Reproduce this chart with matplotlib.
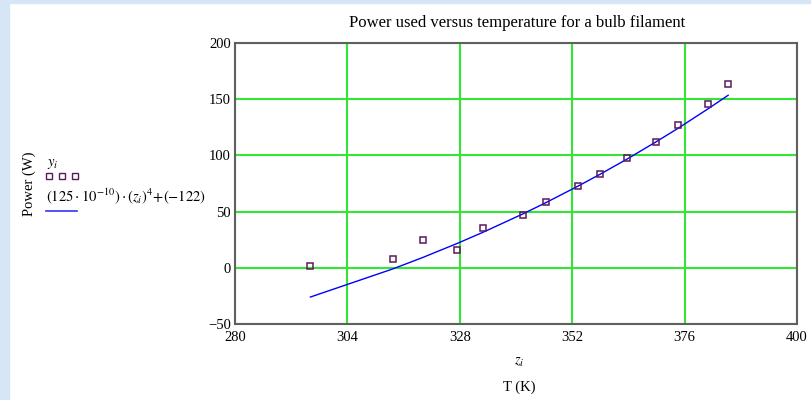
import matplotlib
matplotlib.use("Agg")
import matplotlib.pyplot as plt
from matplotlib.patches import Rectangle
from matplotlib.lines import Line2D

# ----- données -----
z = [296.1, 313.7, 320.1, 327.4, 333.0, 341.4, 346.3, 353.3, 357.9, 363.7, 369.8, 374.6, 381.1, 385.3]
y = [1.5, 7.7, 24.9, 15.7, 35.1, 47.2, 58.2, 72.4, 83.4, 97.3, 111.6, 127.2, 145.9, 163.2]
fit = [-26.0, -1.0, 9.2, 21.6, 31.7, 47.8, 57.8, 72.8, 83.1, 96.7, 111.8, 124.1, 141.7, 153.5]

x_ticks = [280, 304, 328, 352, 376, 400]
y_ticks = [-50, 0, 50, 100, 150, 200]

plt.rcParams['font.family'] = ['Liberation Serif', 'DejaVu Serif']
plt.rcParams['mathtext.fontset'] = 'stix'

fig = plt.figure(figsize=(8.11, 4.0), dpi=100)
fig.patch.set_facecolor("white")

# bande bleue du fond (bord gauche et haut)
fond = "#d6e6f6"
fig.patches.append(Rectangle((0, 0), 9 / 811, 1, transform=fig.transFigure, color=fond, zorder=-10))
fig.patches.append(Rectangle((0, 1 - 3 / 400), 1, 3 / 400, transform=fig.transFigure, color=fond, zorder=-10))

ax = fig.add_axes([235 / 811, 1 - 324 / 400, (797 - 235) / 811, (324 - 43) / 400])

ax.plot(z, fit, color="#0000ff", lw=1.0, zorder=3)
ax.plot(z, y, linestyle="none", marker="s", markersize=5.0, markerfacecolor="none",
        markeredgecolor="#5a1a5a", markeredgewidth=1.1, zorder=4)

ax.set_xlim(280, 400)
ax.set_ylim(-50, 200)
ax.set_xticks(x_ticks)
ax.set_yticks(y_ticks)
ax.grid(True, color="#33e633", lw=1.5)
ax.set_axisbelow(True)
ax.tick_params(length=0, labelsize=10.5, pad=3)
ax.tick_params(axis="x", pad=5)
for s in ax.spines.values():
    s.set_color("#606060")
    s.set_linewidth(1.5)

fig.text(517 / 811, 1 - 23 / 400, "Power used versus temperature for a bulb filament",
         ha="center", va="center", fontsize=12)
fig.text(519 / 811, 1 - 362 / 400, "$z_i$", ha="center", va="center", fontsize=10.5)
fig.text(519 / 811, 1 - 387 / 400, "T (K)", ha="center", va="center", fontsize=10.5)

# légende à gauche
fig.text(29 / 811, 1 - 184 / 400, "Power (W)", rotation=90, ha="center", va="center", fontsize=10.5)
fig.text(47 / 811, 1 - 164 / 400, "$y_i$", ha="left", va="center", fontsize=10.5)
for mx in [49, 62, 75]:
    fig.add_artist(Line2D([mx / 811], [1 - 176 / 400], transform=fig.transFigure, marker="s",
                          markersize=5, markerfacecolor="none", markeredgecolor="#5a1a5a",
                          markeredgewidth=1.0, linestyle="none"))
fig.text(46 / 811, 1 - 196 / 400, r"$\left(125\cdot 10^{-10}\right)\cdot\left(z_i\right)^4\!+\!(-122)$",
         ha="left", va="center", fontsize=10.5)
fig.add_artist(Line2D([46 / 811, 77 / 811], [1 - 211 / 400, 1 - 211 / 400], transform=fig.transFigure,
                      color="#3333ff", lw=1.2))

fig.savefig("out.png", dpi=100)
